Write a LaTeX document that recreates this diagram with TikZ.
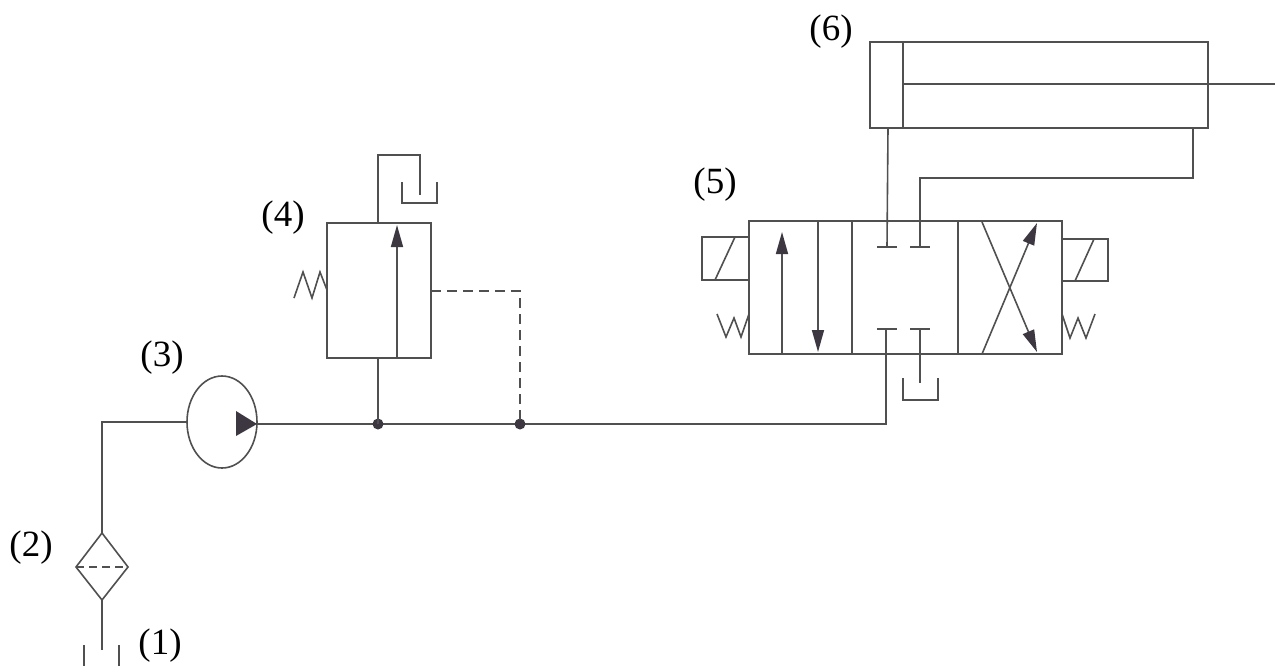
\documentclass[tikz,border=0pt]{standalone}
\usepackage{fontspec}
\setmainfont{Liberation Serif}
\newfontfamily\lblfont{Liberation Serif}
\usetikzlibrary{arrows.meta,shapes.geometric}
\definecolor{ln}{RGB}{80,80,80}
\definecolor{hd}{RGB}{60,55,65}
\begin{document}
\begin{tikzpicture}[x=1pt,y=-1pt,
  pipe/.style={draw=ln, line width=1.6pt},
  pilot/.style={pipe, dash pattern=on 10pt off 6pt},
  flow/.style={pipe, -{Triangle[length=22pt,width=12pt,color=hd,fill=hd]}},
  lbl/.style={font=\lblfont\fontsize{37}{42}\selectfont, text=black, inner sep=0pt},
  jdot/.style={circle, fill=hd, inner sep=0pt, minimum size=11pt},
  box/.style={pipe, line join=miter}]
\useasboundingbox (0,0) rectangle (1278,665);

% ---------- labels ----------
\node[lbl] (l1) at (160,646) {(1)};
\node[lbl] (l2) at (31,548) {(2)};
\node[lbl] (l3) at (162,358) {(3)};
\node[lbl] (l4) at (283,218) {(4)};
\node[lbl] (l5) at (715,185) {(5)};
\node[lbl] (l6) at (831,32) {(6)};

% ---------- key coordinates ----------
\coordinate (tk1) at (102,650);
\coordinate (fb) at (102,600);
\coordinate (ft) at (102,533);
\coordinate (fl) at (76,567);
\coordinate (fr) at (128,567);
\coordinate (corner) at (102,422);
\coordinate (pl) at (187,422);
\coordinate (pr) at (257,424);
\coordinate (j1) at (378,424);
\coordinate (j2) at (520,424);
\coordinate (mend) at (886,424);
\coordinate (pP) at (886,329);
\coordinate (pT) at (920,329);
\coordinate (pA) at (887,247);
\coordinate (pB) at (920,247);
\coordinate (cylA) at (888,128);
\coordinate (cylB) at (1193,128);
\coordinate (rv4in) at (378,358);
\coordinate (rv4out) at (378,223);
\coordinate (rv4pil) at (431,291);

% ---------- tank (1) ----------
\draw[pipe] (84,645) -- (84,670) (119,645) -- (119,670);
\draw[pipe] (tk1) -- (fb);

% ---------- filter (2) ----------
\draw[box] (ft) -- (fr) -- (fb) -- (fl) -- cycle;
\draw[pipe, dash pattern=on 8pt off 5pt] (fl) -- (fr);

% ---------- suction line ----------
\draw[pipe] (ft) -- (corner) -- (pl);

% ---------- pump (3) ----------
\node[draw=ln, line width=1.6pt, ellipse, minimum width=70pt, minimum height=92pt, inner sep=0pt] (pump) at (222,422) {};
\fill[hd] (pr) -- (236,411) -- (236,436) -- cycle;

% ---------- main pressure line ----------
\draw[pipe] (pr) -- (j1) -- (j2) -- (mend) -- (pP);
\node[jdot] (d1) at (j1) {};
\node[jdot] (d2) at (j2) {};

% ---------- relief valve (4) ----------
\draw[box] (327,223) rectangle (431,358);
\draw[flow] (397,358) -- (397,225);
\draw[pipe] (j1) -- (rv4in);
\draw[pipe, line join=miter] (rv4out) -- (378,155) -- (420,155) -- (420,195);
\draw[pipe] (402,182) -- (402,203) -- (437,203) -- (437,182);
\draw[pipe, line join=miter] (294,298) -- (303,272) -- (312,298) -- (320,272) -- (327,290);
\draw[pilot] (rv4pil) -- (520,291) -- (j2);

% ---------- directional valve (5) ----------
\draw[box] (749,221) rectangle (1062,354);
\draw[pipe] (852,221) -- (852,354) (958,221) -- (958,354);
% left envelope
\draw[flow] (782,354) -- (782,232);
\draw[flow] (818,221) -- (818,352);
% middle envelope (blocked)
\draw[pipe] (877,247) -- (897,247) (910,247) -- (930,247);
\draw[pipe] (877,329) -- (897,329) (910,329) -- (930,329);
\draw[pipe] (pA) -- (cylA);
\draw[pipe, line join=miter] (pB) -- (920,178) -- (1193,178) -- (cylB);
\draw[pipe] (pT) -- (920,383);
\draw[pipe] (903,378) -- (903,400) -- (938,400) -- (938,378);
% right envelope (crossed)
\draw[flow] (982,222) -- (1037,352);
\draw[flow] (982,354) -- (1037,223);
% solenoids
\draw[box] (749,237) -- (702,237) -- (702,280) -- (749,280);
\draw[pipe] (715,280) -- (735,237);
\draw[box] (1062,239) -- (1108,239) -- (1108,281) -- (1062,281);
\draw[pipe] (1075,281) -- (1094,239);
% springs
\draw[pipe, line join=miter] (717,314) -- (726,337) -- (734,318) -- (741,337) -- (749,314);
\draw[pipe, line join=miter] (1062,314) -- (1070,338) -- (1078,318) -- (1086,338) -- (1095,314);

% ---------- cylinder (6) ----------
\draw[box] (870,42) rectangle (1208,128);
\draw[pipe] (903,42) -- (903,128);
\draw[pipe] (903,84) -- (1275,84);
\end{tikzpicture}
\end{document}
